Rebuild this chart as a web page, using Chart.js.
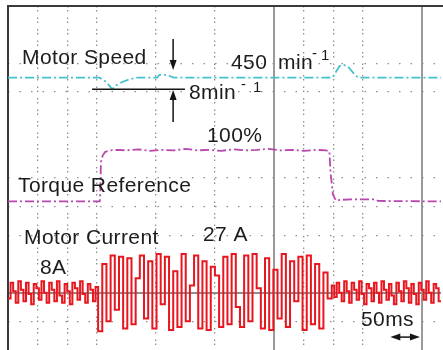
<!DOCTYPE html>
<html>
<head>
<meta charset="utf-8">
<script src="https://cdn.jsdelivr.net/npm/chart.js@4.4.0/dist/chart.umd.min.js"></script>
<style>
  html, body { margin: 0; padding: 0; background: #fff; overflow: hidden; }
  #wrap { width: 443px; height: 350px; }
</style>
</head>
<body>
<div id="wrap"><canvas id="scope"></canvas></div>
<script>
const T_MAX = 735; // ms up to the cropped right edge, 50 ms per division

// Motor speed (min^-1)
const speedTimes  = [0, 155, 166, 176, 184, 193, 206, 218, 252, 256, 268, 274, 280, 548, 554, 560, 566, 574, 580, 586, 592, 735];
const speedValues = [450, 450, 447, 442, 445, 447, 449, 450, 450, 452, 452, 451, 450, 450, 454, 458, 459, 458, 455, 452, 450, 450];

// Torque reference (%)
const torqueTimes  = [0, 150, 155, 156, 157, 160, 164, 172, 185, 200, 220, 240, 260, 280, 300, 320, 340, 360, 380, 400, 420, 440, 460, 480, 500, 520, 538, 543, 545, 547, 549, 552, 556, 560, 580, 600, 619, 625, 735];
const torqueValues = [0, 0, 0, 20, 76, 88, 95, 98, 99, 98, 100, 97, 99, 98, 101, 98, 99, 97, 100, 98, 99, 101, 98, 99, 97, 99, 98, 96, 55, 35, 14, 6, 1, 3, 4, 4, 4, 1, 0];

// Motor current (A), sample-and-hold, three blocks with their own sample step (ms)
const currentBefore = [-4, 7, 1, -7, 8, 2, -6, 7, -1, -8, 6, 3, -5, 8, 0, -7, 7, 2, -6, 8, -2, -7, 6, 1, -8, 7, 3, -5, 8, -1, -7, 6, 2, -6, 4];
const stepBefore = 4.35;
const currentBurst = [-27, 20, -20, 26, -12, 25, -25, 24, -22, 10, 26, -18, 22, -25, 27, -8, 25, -26, 15, -24,
                      27, -20, 5, 26, -25, 22, -26, 18, 12, -24, 25, -22, 27, -10, -24, 26, -20, 27, 3, -25,
                      24, -26, 16, -18, 27, -24, 22, -6, 25, -26, 26, -22, 20, -25, 14, -4];
const stepBurst = 7.05;
const currentAfter = [5, -3, 7, 0, -6, 8, 1, -7, 7, 2, -5, 8, -1, -8, 6, 3, -6, 7, 0, -7, 8, 2, -5, 6, -2, -8, 7, 1, -6, 8, 3, -7, 6, -1, -8, 7, 2, -5, 8, 0, -7, 6, 3, -6];
const stepAfter = 4.2;

// grid divisions that show up on the print
const dottedCols = [1, 2, 3, 5, 7, 10, 11, 12];
const majorCols = [450, 700];
const dottedRows = [2, 3, 6, 7, 8, 11];
const majorRows = [10];

function pairs(ts, vs) {
    return ts.map((t, i) => ({ x: t, y: vs[i] }));
}

function holdSamples(blocks) {
    const pts = [];
    let t = 0;
    blocks.forEach(([vals, dt]) => {
        vals.forEach(v => {
            pts.push({ x: t, y: v });
            t += dt;
        });
    });
    pts.push({ x: t, y: pts[pts.length - 1].y });
    return pts;
}

const currentPoints = holdSamples([
    [currentBefore, stepBefore],
    [currentBurst, stepBurst],
    [currentAfter, stepAfter],
]);

const noTicks = { display: false };
const zeroH = s => { s.height = 0; };
const zeroW = s => { s.width = 0; };

function arrowHead(ctx, x, y, dx, dy) {
    // tip at (x,y), pointing along (dx,dy)
    const len = 10, half = 3.5;
    ctx.beginPath();
    ctx.moveTo(x, y);
    ctx.lineTo(x - dx * len - dy * half, y - dy * len + dx * half);
    ctx.lineTo(x - dx * len + dy * half, y - dy * len - dx * half);
    ctx.closePath();
    ctx.fill();
}

// scope frame: only the left and top edges are on the print
const frame = {
    id: "frame",
    beforeDatasetsDraw(chart) {
        const { ctx, chartArea: a } = chart;
        ctx.save();
        ctx.strokeStyle = "#3a3a3a";
        ctx.lineWidth = 2;
        ctx.beginPath();
        ctx.moveTo(a.left, a.bottom);
        ctx.lineTo(a.left, a.top);
        ctx.lineTo(chart.width, a.top);
        ctx.stroke();
        ctx.restore();
    },
    afterDraw(chart) {
        // the print is cut open on the right: no closing edge there
        const { ctx, chartArea: a } = chart;
        ctx.clearRect(chart.width - 2.5, a.top + 1.5, 3, chart.height);
    }
};

const annotations = {
    id: "annotations",
    afterDatasetsDraw(chart) {
        const { ctx, scales } = chart;
        const px = t => scales.x.getPixelForValue(t);
        const pySpeed = v => scales.ySpeed.getPixelForValue(v);
        const pyCur = v => scales.yCurrent.getPixelForValue(v);

        ctx.save();
        ctx.strokeStyle = "#151515";
        ctx.fillStyle = "#151515";
        ctx.lineWidth = 1.5;

        // 8 min^-1 reference line and arrows
        ctx.beginPath();
        ctx.moveTo(px(142), pySpeed(442));
        ctx.lineTo(px(299), pySpeed(442));
        ctx.stroke();

        const ax = px(279);
        ctx.beginPath();
        ctx.moveTo(ax, pySpeed(477));
        ctx.lineTo(ax, pySpeed(455) - 8);
        ctx.moveTo(ax, pySpeed(419));
        ctx.lineTo(ax, pySpeed(441.4) + 8);
        ctx.stroke();
        arrowHead(ctx, ax, pySpeed(455.3), 0, 1);
        arrowHead(ctx, ax, pySpeed(441.4), 0, -1);

        // 50 ms marker
        const y50 = pyCur(-31);
        ctx.beginPath();
        ctx.moveTo(px(652), y50);
        ctx.lineTo(px(690), y50);
        ctx.stroke();
        arrowHead(ctx, px(646), y50, -1, 0);
        arrowHead(ctx, px(696), y50, 1, 0);

        // texts
        ctx.fillStyle = "#1c1c1c";
        ctx.textBaseline = "alphabetic";
        ctx.letterSpacing = "0.4px";
        ctx.font = '21px "Liberation Sans", Arial, sans-serif';
        [
            ["Motor Speed", 22, 64],
            ["450", 231, 69],
            ["min", 278, 69],
            ["8min", 189, 99],
            ["100%", 207, 142],
            ["Torque Reference", 18, 192],
            ["Motor Current", 24, 244],
            ["27 A", 203, 241],
            ["8A", 40, 274],
            ["50ms", 361, 326],
        ].forEach(([s, x, y]) => ctx.fillText(s, x, y));

        ctx.font = '15px "Liberation Sans", Arial, sans-serif';
        [
            ["-", 312, 58],
            ["1", 321, 60],
            ["-", 241, 89],
            ["1", 253, 92],
        ].forEach(([s, x, y]) => ctx.fillText(s, x, y));
        ctx.restore();
    }
};

new Chart(document.getElementById("scope"), {
    type: "line",
    data: {
        datasets: [
            {
                label: "Motor Current",
                data: currentPoints,
                yAxisID: "yCurrent",
                borderColor: "#e8161f",
                borderWidth: 2,
                stepped: true,
                pointRadius: 0,
            },
            {
                label: "Torque Reference",
                data: pairs(torqueTimes, torqueValues),
                yAxisID: "yTorque",
                borderColor: "#b848ad",
                borderWidth: 1.8,
                borderDash: [9, 3, 2, 3],
                pointRadius: 0,
            },
            {
                label: "Motor Speed",
                data: pairs(speedTimes, speedValues),
                yAxisID: "ySpeed",
                borderColor: "#45c1ce",
                borderWidth: 1.8,
                borderDash: [9, 3, 2, 3],
                pointRadius: 0,
            },
        ],
    },
    options: {
        animation: false,
        responsive: true,
        maintainAspectRatio: false,
        devicePixelRatio: 1,
        layout: { padding: { left: 8, top: 6, right: -6, bottom: 0 } },
        plugins: { legend: { display: false }, tooltip: { enabled: false } },
        scales: {
            x: {
                type: "linear", min: 0, max: T_MAX, position: "bottom",
                ticks: { display: false, stepSize: 50 },
                grid: {
                    drawTicks: false,
                    lineWidth: 1.3,
                    color: c => (c.tick.value % 50 === 0 && dottedCols.includes(c.tick.value / 50)) ? "#8f8f8f" : "rgba(0,0,0,0)",
                },
                border: { display: false, dash: [1.5, 2.5, 1.5, 6] },
                afterFit: zeroH,
            },
            xMajor: {
                type: "linear", min: 0, max: T_MAX, position: "bottom",
                ticks: noTicks,
                afterBuildTicks: s => { s.ticks = majorCols.map(v => ({ value: v })); },
                grid: { drawTicks: false, lineWidth: 2, color: "#9a9a9a" },
                border: { display: false },
                afterFit: zeroH,
            },
            yGrid: {
                type: "linear", min: 0, max: 12, reverse: true, position: "left",
                ticks: { display: false, stepSize: 1 },
                grid: {
                    drawTicks: false,
                    lineWidth: 1.3,
                    color: c => dottedRows.includes(c.tick.value) ? "#8f8f8f" : "rgba(0,0,0,0)",
                },
                border: { display: false, dash: [1.5, 10] },
                afterFit: zeroW,
            },
            yMajor: {
                type: "linear", min: 0, max: 12, reverse: true, position: "left",
                ticks: noTicks,
                afterBuildTicks: s => { s.ticks = majorRows.map(v => ({ value: v })); },
                grid: { drawTicks: false, lineWidth: 2, color: "#8e8e8e" },
                border: { display: false },
                afterFit: zeroW,
            },
            ySpeed: { type: "linear", display: false, min: 260, max: 500 },
            yTorque: { type: "linear", display: false, min: -285, max: 375 },
            yCurrent: { type: "linear", display: false, min: -40, max: 200 },
        },
    },
    plugins: [frame, annotations],
});
</script>
</body>
</html>
